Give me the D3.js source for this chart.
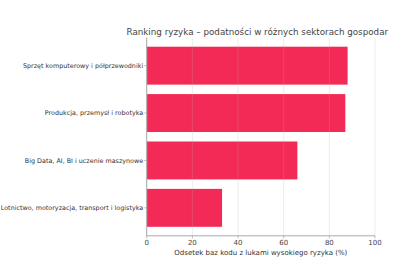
<!DOCTYPE html>
<html><head><meta charset="utf-8">
<script src="https://cdn.jsdelivr.net/npm/d3@7"></script>
<style>body{margin:0;background:#fff}svg{display:block}</style>
</head><body>
<script>
const categories = [
  "Sprzęt komputerowy i półprzewodniki",
  "Produkcja, przemysł i robotyka",
  "Big Data, AI, BI i uczenie maszynowe",
  "Lotnictwo, motoryzacja, transport i logistyka"
];
const values = [88, 87, 66, 33];
const xTicks = [0, 20, 40, 60, 80, 100];
const title = "Ranking ryzyka – podatności w różnych sektorach gospodar";
const xLabel = "Odsetek baz kodu z lukami wysokiego ryzyka (%)";

const W = 420, H = 280;
const m = {left: 146.7, right: 45, top: 37.7, bottom: 44.2};
const svg = d3.select("body").append("svg").attr("width", W).attr("height", H)
  .style("font-family", "DejaVu Sans, sans-serif");

const x = d3.scaleLinear().domain([0, 100]).range([m.left, W - m.right]);
const y = d3.scaleBand().domain(categories)
  .range([m.top, H - m.bottom])
  .paddingInner(0.2).paddingOuter(0.19);

// bars
svg.append("g").selectAll("rect").data(values).join("rect")
  .attr("x", x(0))
  .attr("y", (d, i) => y(categories[i]))
  .attr("width", d => x(d) - x(0))
  .attr("height", y.bandwidth())
  .attr("fill", "#f42a56");

// grid on top (faint)
svg.append("g").selectAll("line").data(xTicks).join("line")
  .attr("x1", d => x(d)).attr("x2", d => x(d))
  .attr("y1", m.top).attr("y2", H - m.bottom)
  .attr("stroke", "#b0b0b0").attr("stroke-opacity", 0.3).attr("stroke-width", 0.8);

// spines
svg.append("line").attr("x1", x(0)).attr("x2", x(0)).attr("y1", m.top).attr("y2", H - m.bottom)
  .attr("stroke", "#aaa").attr("stroke-width", 1);
svg.append("line").attr("x1", x(0)).attr("x2", x(100)).attr("y1", H - m.bottom).attr("y2", H - m.bottom)
  .attr("stroke", "#aaa").attr("stroke-width", 1);

// x ticks
const xt = svg.append("g");
xTicks.forEach(t => {
  xt.append("line").attr("x1", x(t)).attr("x2", x(t)).attr("y1", H - m.bottom).attr("y2", H - m.bottom + 2.5)
    .attr("stroke", "#aaa").attr("stroke-width", 0.8);
  xt.append("text").attr("x", x(t)).attr("y", H - m.bottom + 9.5).attr("text-anchor", "middle")
    .attr("font-size", 7).attr("fill", "#444").text(t);
});

// y ticks
const yLabels = [];
categories.forEach((c, i) => {
  const cy = y(c) + y.bandwidth() / 2;
  svg.append("line").attr("x1", x(0) - 2.5).attr("x2", x(0)).attr("y1", cy).attr("y2", cy)
    .attr("stroke", "#aaa").attr("stroke-width", 0.8);
  yLabels.push(svg.append("text").attr("x", x(0) - 3.5).attr("y", cy).attr("dy", "0.35em")
    .attr("text-anchor", "end").attr("font-size", 6.6).attr("fill", "#333").text(c));
});
// fit so the longest label just fits within the left edge
const lMax = d3.max(yLabels, t => t.node().getComputedTextLength());
const fs = 6.6 * (x(0) - 3.5 - 0.5) / lMax;
yLabels.forEach(t => t.attr("font-size", fs));

// x label
svg.append("text").attr("x", (x(0) + x(100)) / 2).attr("y", H - m.bottom + 19.5)
  .attr("text-anchor", "middle").attr("font-size", 7).attr("fill", "#333").text(xLabel);

// title
const tt = svg.append("text").attr("x", 126.5).attr("y", 34.5)
  .attr("font-size", 10).attr("fill", "#444").text(title);
const len = tt.node().getComputedTextLength();
tt.attr("font-size", 10 * 262 / len);
</script>
</body></html>
